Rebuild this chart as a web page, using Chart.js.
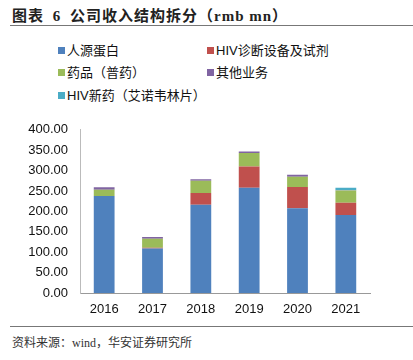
<!DOCTYPE html>
<html>
<head>
<meta charset="utf-8">
<script src="https://cdn.jsdelivr.net/npm/chart.js@4"></script>
<style>
    body { margin: 0; width: 413px; height: 360px; background: #fff; position: relative; overflow: hidden; font-family: "Liberation Sans", Arial, sans-serif; }
    #title { position: absolute; left: 12px; top: 4px; font: bold 15px "Liberation Serif", "Noto Sans CJK SC", serif; color: #222; letter-spacing: 1px; }
    #title .gap { word-spacing: 4px; }
    #topLine { position: absolute; left: 10px; right: 0; top: 25px; border-top: 1px solid #777; }
    #legend { position: absolute; left: 58px; top: 40px; width: 340px; }
    .item { position: absolute; font: 13px "Liberation Sans", "Noto Sans CJK SC", sans-serif; color: #111; white-space: nowrap; }
    .item span { display: inline-block; width: 7px; height: 7px; margin-right: 2px; vertical-align: 1px; }
    #wrap { position: absolute; left: 0; top: 110px; width: 380px; height: 210px; }
    #bottomLine { position: absolute; left: 10px; right: 0; top: 326px; border-top: 1px solid #777; }
    #source { position: absolute; left: 12px; top: 333px; font: 12px "Liberation Serif", "Noto Sans CJK SC", serif; color: #333; }
</style>
</head>
<body>
<div id="title"><span class="gap">图表 6 </span>公司收入结构拆分（rmb mn）</div>
<div id="topLine"></div>
<div id="legend"></div>
<div id="wrap"><canvas id="revChart"></canvas></div>
<div id="bottomLine"></div>
<div id="source">资料来源：wind，华安证券研究所</div>
<script>
// revenue breakdown, rmb mn
const years = ['2016', '2017', '2018', '2019', '2020', '2021'];
const seriesNames = ['人源蛋白', 'HIV诊断设备及试剂', '药品（普药）', '其他业务', 'HIV新药（艾诺韦林片）'];
const protein = [238, 109, 216, 258, 208, 191];
const hivDiag = [0, 2, 29, 52, 52, 30];
const drugs = [15, 22, 30, 33, 25, 30];
const other = [6, 4, 4, 4, 5, 1];
const hivNewDrug = [0, 0, 0, 0, 0, 6];
const colors = ['#4F81BD', '#C0504D', '#9BBB59', '#8064A2', '#4BACC6'];
const yTicks = [0, 50, 100, 150, 200, 250, 300, 350, 400];

const seriesData = [protein, hivDiag, drugs, other, hivNewDrug];

// legend in two columns
const legendPos = [[0, 0], [149, 0], [0, 22], [149, 22], [0, 45]];
const legendEl = document.getElementById('legend');
seriesNames.forEach((name, i) => {
    const d = document.createElement('div');
    d.className = 'item';
    d.style.left = legendPos[i][0] + 'px';
    d.style.top = legendPos[i][1] + 'px';
    d.innerHTML = '<span style="background:' + colors[i] + '"></span>' + name;
    legendEl.appendChild(d);
});

const ctx = document.getElementById('revChart').getContext('2d');
new Chart(ctx, {
    type: 'bar',
    data: {
        labels: years,
        datasets: seriesData.map((vals, i) => ({
            label: seriesNames[i],
            data: vals,
            backgroundColor: colors[i],
            barPercentage: 0.86,
            categoryPercentage: 0.5
        }))
    },
    options: {
        responsive: true,
        maintainAspectRatio: false,
        animation: false,
        layout: { padding: { top: 14, right: 10, left: 0, bottom: 0 } },
        scales: {
            x: {
                stacked: true,
                grid: { display: false, drawTicks: false },
                border: { color: '#999' },
                ticks: { color: '#111', padding: 9, font: { size: 13, family: 'Liberation Sans' } },
                afterFit: s => { s.height = 27; }
            },
            y: {
                stacked: true,
                min: 0,
                max: 400,
                afterBuildTicks: s => { s.ticks = yTicks.map(v => ({ value: v })); },
                grid: { display: false, drawTicks: false },
                border: { color: '#bbb' },
                ticks: {
                    color: '#111',
                    padding: 12,
                    font: { size: 13, family: 'Liberation Sans' },
                    callback: v => Number(v).toFixed(2)
                },
                afterFit: s => { s.width = 80; }
            }
        },
        plugins: {
            legend: { display: false },
            tooltip: { enabled: false }
        }
    }
});
</script>
</body>
</html>
